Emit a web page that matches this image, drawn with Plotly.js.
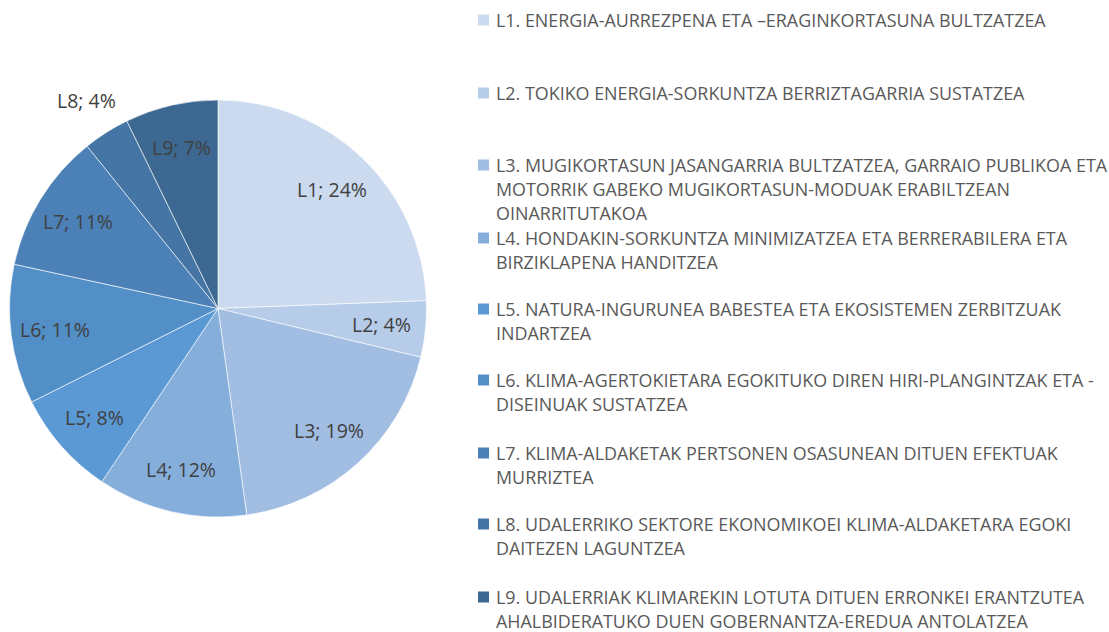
<!DOCTYPE html>
<html><head><meta charset="utf-8">
<script src="https://cdn.plot.ly/plotly-3.0.1.min.js"></script>
<style>html,body{margin:0;padding:0;background:#fff;}#chart{width:1109px;height:632px;}</style>
</head><body><div id="chart"></div>
<script>
const labels = ["L1","L2","L3","L4","L5","L6","L7","L8","L9"];
const values = [24.4,4.35,19.05,11.6,8.2,10.8,10.8,3.6,7.2];
const colors = ["#CBDAEE","#B7CCE9","#A2BDE2","#86AEDB","#5A99D4","#538FC7","#4B81B7","#4475A4","#3C6891"];
const labelOutside = [false,false,false,false,false,false,false,true,false];
const legendNames = [
  "L1. ENERGIA-AURREZPENA ETA –ERAGINKORTASUNA BULTZATZEA",
  "L2. TOKIKO ENERGIA-SORKUNTZA BERRIZTAGARRIA SUSTATZEA",
  "L3. MUGIKORTASUN JASANGARRIA BULTZATZEA, GARRAIO PUBLIKOA ETA<br>MOTORRIK GABEKO MUGIKORTASUN-MODUAK ERABILTZEAN<br>OINARRITUTAKOA",
  "L4. HONDAKIN-SORKUNTZA MINIMIZATZEA ETA BERRERABILERA ETA<br>BIRZIKLAPENA HANDITZEA",
  "L5. NATURA-INGURUNEA BABESTEA ETA EKOSISTEMEN ZERBITZUAK<br>INDARTZEA",
  "L6. KLIMA-AGERTOKIETARA EGOKITUKO DIREN HIRI-PLANGINTZAK ETA -<br>DISEINUAK SUSTATZEA",
  "L7. KLIMA-ALDAKETAK PERTSONEN OSASUNEAN DITUEN EFEKTUAK<br>MURRIZTEA",
  "L8. UDALERRIKO SEKTORE EKONOMIKOEI KLIMA-ALDAKETARA EGOKI<br>DAITEZEN LAGUNTZEA",
  "L9. UDALERRIAK KLIMAREKIN LOTUTA DITUEN ERRONKEI ERANTZUTEA<br>AHALBIDERATUKO DUEN GOBERNANTZA-EREDUA ANTOLATZEA"
];
const legendTop = [20,93,165,238,309,380,453,524,597];

const W = 1109, H = 632;
const FONT = "Open Sans, Noto Sans, sans-serif";
// pie geometry (pixels)
const CX = 218, CY = 308.5, R = 208.5;
const IN_F = 0.79, OUT_F = 1.18;

const trace = {
  type: "pie",
  labels: labels,
  values: values,
  sort: false,
  direction: "clockwise",
  rotation: 0,
  marker: {colors: colors, line: {color: "#ffffff", width: 0.6}},
  textinfo: "none",
  showlegend: false,
  hoverinfo: "label+percent",
  domain: {x: [(CX-R)/W, (CX+R)/W], y: [(H-CY-R)/H, (H-CY+R)/H]}
};

const annotations = [];
const shapes = [];
// slice labels from data
const total = values.reduce((a,b)=>a+b,0);
let cum = 0;
values.forEach((v, i) => {
  const mid = (cum + v/2) / total * 2 * Math.PI;
  cum += v;
  const f = labelOutside[i] ? OUT_F : IN_F;
  const px = CX + f * R * Math.sin(mid);
  const py = CY - f * R * Math.cos(mid);
  annotations.push({
    xref: "paper", yref: "paper", x: px/W, y: 1 - py/H,
    xanchor: "center", yanchor: "middle", showarrow: false,
    text: labels[i] + "; " + Math.round(v/total*100) + "%",
    font: {family: FONT, size: 19.5, color: "#404040"}
  });
});
// legend
legendNames.forEach((name, i) => {
  const lines = name.split("<br>");
  lines.forEach((ln, j) => {
    const yc = legendTop[i] + j * 24;
    annotations.push({
      xref: "paper", yref: "paper", x: 494/W, y: 1 - yc/H,
      xanchor: "left", yanchor: "middle", showarrow: false,
      text: ln, font: {family: FONT, size: 17.9, color: "#595959"}
    });
  });
  const yc = legendTop[i];
  shapes.push({
    type: "rect", xref: "paper", yref: "paper",
    x0: 478/W, x1: 489/W, y0: 1 - (yc+5.5)/H, y1: 1 - (yc-5.5)/H,
    fillcolor: colors[i], line: {width: 0}
  });
});

const layout = {
  width: W, height: H,
  margin: {l: 0, r: 0, t: 0, b: 0},
  paper_bgcolor: "#ffffff",
  showlegend: false,
  annotations: annotations,
  shapes: shapes,
  font: {family: FONT}
};
Plotly.newPlot("chart", [trace], layout, {displayModeBar: false, staticPlot: true});
</script></body></html>
